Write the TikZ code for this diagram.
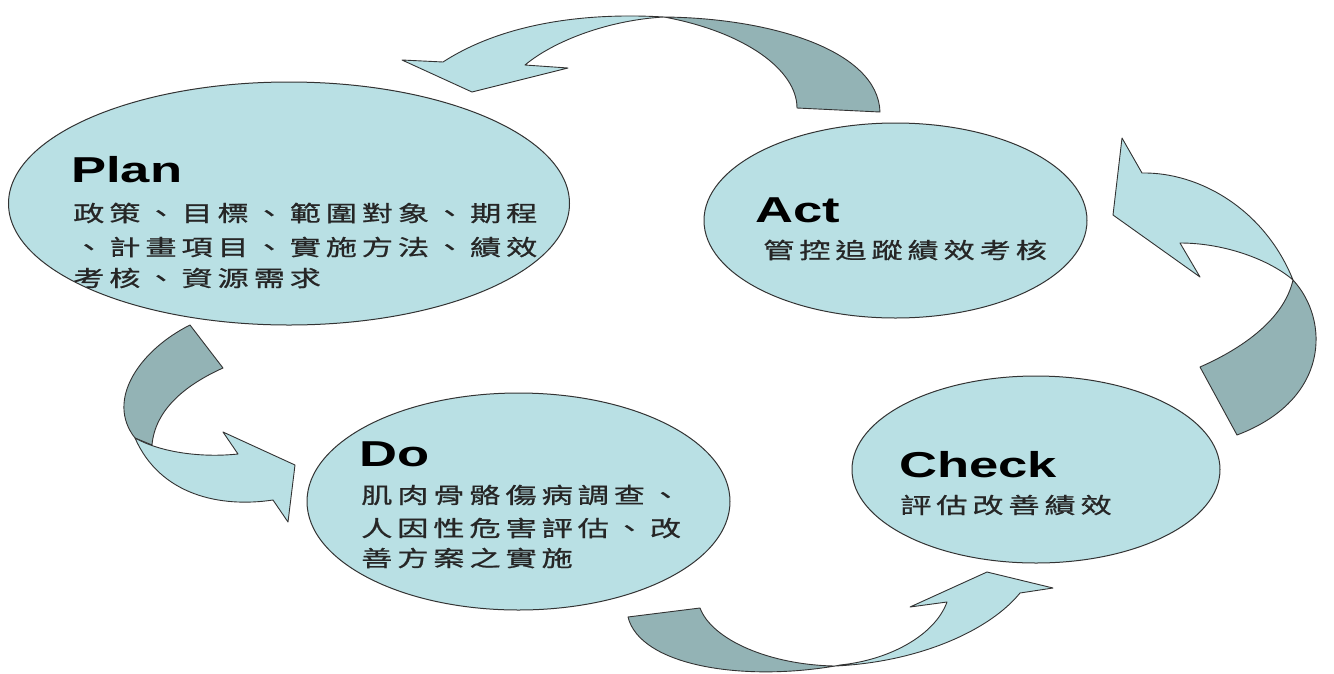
\documentclass[tikz,border=0pt]{standalone}
\usepackage{fontspec}
\usetikzlibrary{shapes.geometric}
\newfontfamily\titlefont{Liberation Sans}[FakeStretch=1.46]
\newfontfamily\cjk{Noto Sans CJK TC}[FakeStretch=1.42,LetterSpace=22,FakeBold=0.8]
\definecolor{lightc}{HTML}{B9E0E4}
\definecolor{darkc}{HTML}{93B3B5}
\definecolor{edgec}{HTML}{333333}
\begin{document}
\begin{tikzpicture}[x=1pt,y=-1pt,
  ell/.style={ellipse,draw=edgec,fill=lightc,line width=1pt,inner sep=0pt},
  lightpart/.style={fill=lightc,draw=edgec,line width=0.9pt,line join=round},
  darkpart/.style={fill=darkc,draw=edgec,line width=0.9pt,line join=round},
  ttl/.style={anchor=base west,inner sep=0pt,font=\titlefont\bfseries\fontsize{36}{40}\selectfont},
  body/.style={anchor=west,inner sep=0pt,font=\cjk\fontsize{22}{26}\selectfont,text=black!85}]
\useasboundingbox[fill=white] (0,0) rectangle (1334,673);

% ellipses
\node[ell,minimum width=561pt,minimum height=243pt] (plan) at (289,203.5) {};
\node[ell,minimum width=383pt,minimum height=195pt] (act) at (895.5,220.5) {};
\node[ell,minimum width=368pt,minimum height=187pt] (check) at (1036,469.5) {};
\node[ell,minimum width=423pt,minimum height=217pt] (do) at (518.5,501.5) {};

% top arrow (Act -> Plan)
\path[darkpart] (664,17) .. controls (770,18) and (878,50) .. (880,112) -- (797,108) .. controls (797,70) and (745,32) .. (664,17) -- cycle;
\path[lightpart] (443,62) .. controls (500,25) and (580,12) .. (664,17) .. controls (610,20) and (555,40) .. (525,65) -- (568,68) -- (472,92) -- (402,60) -- cycle;

% right arrow (Check -> Act)
\path[darkpart] (1293,280) .. controls (1330,320) and (1330,400) .. (1237,435) -- (1200,367) .. controls (1250,345) and (1285,315) .. (1293,280) -- cycle;
\path[lightpart] (1142,173) .. controls (1200,172) and (1265,210) .. (1293,280) .. controls (1270,260) and (1225,243) .. (1180,243) -- (1200,277) -- (1113,215) -- (1122,138) -- cycle;

% left arrow (Plan -> Do)
\path[darkpart] (190,325) .. controls (140,350) and (105,400) .. (135,438) -- (152,445) .. controls (155,410) and (185,385) .. (223,368) -- cycle;
\path[lightpart] (135,438) .. controls (160,452) and (200,458) .. (238,454) -- (223,432) -- (295,465) -- (288,522) -- (273,500) .. controls (220,508) and (160,495) .. (135,438) -- cycle;

% bottom arrow (Do -> Check)
\path[darkpart] (628,617) .. controls (640,665) and (740,682) .. (835,666) .. controls (770,665) and (712,640) .. (700,608) -- cycle;
\path[lightpart] (835,666) .. controls (920,662) and (990,630) .. (1020,593) -- (1053,588) -- (987,572) -- (910,607) -- (947,602) .. controls (935,635) and (890,660) .. (840,665) -- cycle;

% texts
\node[ttl] (planT) at (71,182) {Plan};
\node[body] (plan1) at (73,213) {政策、目標、範圍對象、期程};
\node[body] (plan2) at (73,247) {、計畫項目、實施方法、績效};
\node[body] (plan3) at (73,278) {考核、資源需求};

\node[ttl] (actT) at (755,222) {Act};
\node[body] (act1) at (763,250) {管控追蹤績效考核};

\node[ttl] (checkT) at (899,477) {Check};
\node[body] (check1) at (900,505) {評估改善績效};

\node[ttl] (doT) at (359,466) {Do};
\node[body] (do1) at (361,495) {肌肉骨骼傷病調查、};
\node[body] (do2) at (361,528) {人因性危害評估、改};
\node[body] (do3) at (361,558) {善方案之實施};
\end{tikzpicture}
\end{document}
